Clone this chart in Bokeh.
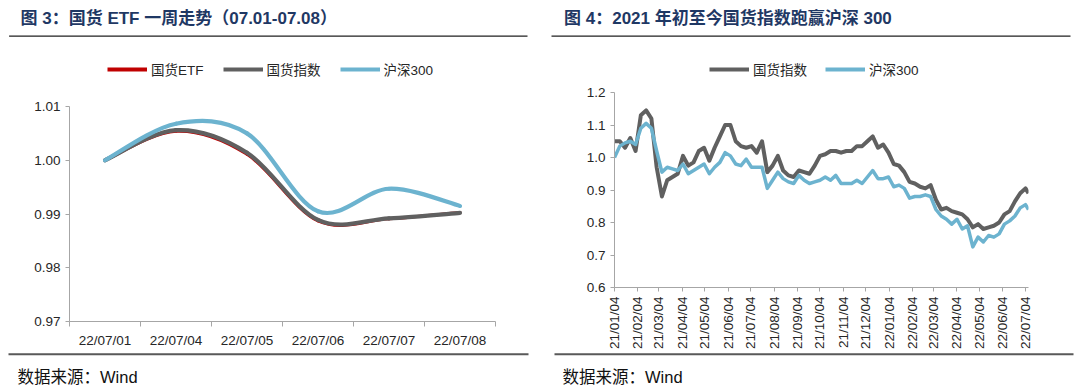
import math
import numpy as np
import pandas as pd
from bokeh.plotting import figure
from bokeh.models import (Range1d, FixedTicker, Label, BoxAnnotation, Legend, LegendItem,
                          NumeralTickFormatter, DatetimeTickFormatter)
from bokeh.layouts import row, column
from bokeh.embed import file_html
from bokeh.resources import INLINE

# ---------------- data: left chart (one week) ----------------
week_labels = ["22/07/01", "22/07/04", "22/07/05", "22/07/06", "22/07/07", "22/07/08"]
etf_week = [1.0000, 1.0054, 1.0011, 0.9887, 0.9891, 0.9903]
gh_week = [1.0000, 1.0056, 1.0014, 0.9889, 0.9892, 0.9902]
hs_week = [1.0000, 1.0068, 1.0050, 0.9905, 0.9947, 0.9915]
left_yticks = [0.97, 0.98, 0.99, 1.00, 1.01]

# ---------------- data: right chart (weekly samples since 2021-01-04) ----------------
dates_right = list(pd.date_range("2021-01-04", periods=79, freq="7D")) + [pd.Timestamp("2022-07-08")]
gh_index = [1.05, 1.05, 1.03, 1.06, 1.02, 1.13, 1.145, 1.12, 0.97, 0.88,
            0.93, 0.94, 0.95, 1.005, 0.975, 0.985, 1.02, 1.03, 0.99, 1.03,
            1.065, 1.10, 1.10, 1.05, 1.035, 1.03, 1.035, 1.015, 1.05, 0.955,
            0.975, 1.005, 0.96, 0.945, 0.94, 0.96, 0.955, 0.95, 0.975, 1.005,
            1.01, 1.02, 1.02, 1.015, 1.02, 1.02, 1.035, 1.035, 1.05, 1.065,
            1.03, 1.04, 1.015, 0.98, 0.975, 0.955, 0.925, 0.92, 0.91, 0.905,
            0.915, 0.87, 0.84, 0.845, 0.835, 0.83, 0.825, 0.81, 0.785, 0.795,
            0.78, 0.785, 0.79, 0.80, 0.825, 0.835, 0.865, 0.89, 0.905, 0.89]
hs300 = [1.00, 1.035, 1.045, 1.05, 1.04, 1.09, 1.105, 1.09, 1.02, 0.955,
         0.97, 0.965, 0.96, 0.98, 0.95, 0.96, 0.97, 0.98, 0.95, 0.97,
         0.985, 1.015, 1.005, 0.98, 0.975, 0.995, 0.97, 0.97, 0.97, 0.905,
         0.93, 0.955, 0.935, 0.925, 0.92, 0.945, 0.93, 0.92, 0.925, 0.93,
         0.94, 0.93, 0.945, 0.92, 0.92, 0.92, 0.93, 0.92, 0.94, 0.96,
         0.935, 0.935, 0.94, 0.91, 0.915, 0.905, 0.875, 0.88, 0.88, 0.885,
         0.88, 0.84, 0.82, 0.81, 0.795, 0.81, 0.78, 0.79, 0.725, 0.755,
         0.74, 0.76, 0.755, 0.765, 0.795, 0.805, 0.82, 0.845, 0.855, 0.84]
right_xticks = ["2021-01-04", "2021-02-04", "2021-03-04", "2021-04-04", "2021-05-04",
                "2021-06-04", "2021-07-04", "2021-08-04", "2021-09-04", "2021-10-04",
                "2021-11-04", "2021-12-04", "2022-01-04", "2022-02-04", "2022-03-04",
                "2022-04-04", "2022-05-04", "2022-06-04", "2022-07-04"]
right_yticks = [0.6, 0.7, 0.8, 0.9, 1.0, 1.1, 1.2]

title_left = "图 3：国货 ETF 一周走势（07.01-07.08）"
title_right = "图 4：2021 年初至今国货指数跑赢沪深 300"
source_text = "数据来源：Wind"

# ---------------- styles ----------------
FONT = "Liberation Sans, Noto Sans CJK SC"
AX = "#A6A6A6"
TXT = "#262626"
RED = "#C00000"
GRAY = "#606060"
BLUE = "#6CB3CF"
TITLE_C = "#1F3864"
HEAD_H = 82


def blank_fig(w, h):
    p = figure(width=w, height=h, output_backend="svg", toolbar_location=None,
               x_range=Range1d(0, w), y_range=Range1d(h, 0),
               x_axis_location=None, y_axis_location=None,
               min_border_left=0, min_border_right=0, min_border_top=0, min_border_bottom=0)
    p.outline_line_color = None
    p.grid.visible = False
    return p


def rule(p, left, right, top, bottom, color):
    p.add_layout(BoxAnnotation(left=left, right=right, top=top, bottom=bottom,
                               fill_color=color, fill_alpha=1, line_color=None))


def header(w, title, tx, ul, ur, series, lx, standoff, spacing):
    """Title, rule and legend.  The legend keys reuse the plotted series (hidden here)."""
    p = blank_fig(w, HEAD_H)
    p.add_layout(Label(x=tx, y=17.5, text=title, text_font=FONT, text_font_style="bold",
                       text_font_size="17px", text_color=TITLE_C, text_baseline="middle",
                       text_align="left"))
    rule(p, ul, ur, 35.0, 36.3, "#202020")
    items = []
    for lab, xs, ys, col in series:
        r = p.line(xs, ys, line_color=col, line_width=4, visible=False)
        items.append(LegendItem(label=lab, renderers=[r]))
    leg = Legend(items=items, location=(lx, 3), orientation="horizontal",
                 glyph_width=40, glyph_height=20, label_standoff=standoff, spacing=spacing,
                 padding=0, margin=0, border_line_color=None, background_fill_alpha=0,
                 label_text_font=FONT, label_text_font_size="13.5px", label_text_color=TXT,
                 label_height=20, click_policy="none")
    p.add_layout(leg)
    return p


def footer(w, bl, br, sx):
    p = blank_fig(w, 40)
    rule(p, bl, br, 0.8, 2.8, "#595959")
    p.add_layout(Label(x=sx, y=24, text=source_text, text_font=FONT, text_font_size="16.5px",
                       text_color="#111111", text_baseline="middle", text_align="left"))
    return p


def style_axes(p):
    for ax in p.axis:
        ax.axis_line_color = AX
        ax.major_tick_line_color = AX
        ax.minor_tick_line_color = None
        ax.major_tick_in = 0
        ax.major_tick_out = 4
        ax.major_label_text_font = FONT
        ax.major_label_text_font_size = "13.5px"
        ax.major_label_text_color = TXT
        ax.major_label_standoff = 5


def smooth(p, xs, ys, **kw):
    x = np.asarray(xs, float)
    y = np.asarray(ys, float)
    xp = np.concatenate([[x[0]], x, [x[-1]]])
    yp = np.concatenate([[y[0]], y, [y[-1]]])
    n = len(x)
    i = np.arange(n - 1)
    cx0 = x[i] + (xp[i + 2] - xp[i]) / 6
    cy0 = y[i] + (yp[i + 2] - yp[i]) / 6
    cx1 = x[i + 1] - (xp[i + 3] - xp[i + 1]) / 6
    cy1 = y[i + 1] - (yp[i + 3] - yp[i + 1]) / 6
    return p.bezier(x0=x[:-1], y0=y[:-1], x1=x[1:], y1=y[1:],
                    cx0=cx0, cy0=cy0, cx1=cx1, cy1=cy1, line_cap="round", **kw)


# ---------------- left panel ----------------
xc = [i + 0.5 for i in range(len(week_labels))]
h1 = header(548, title_left, 20, 8.6, 527,
            [("国货ETF", xc, etf_week, RED), ("国货指数", xc, gh_week, GRAY),
             ("沪深300", xc, hs_week, BLUE)], 107, 4, 19)

p1 = figure(width=548, height=270, output_backend="svg", toolbar_location=None,
            x_range=Range1d(0, len(week_labels)), y_range=Range1d(0.97, 1.01),
            min_border_left=69, min_border_right=53, min_border_top=24, min_border_bottom=31)
p1.outline_line_color = None
p1.grid.visible = False

smooth(p1, xc, etf_week, line_color=RED, line_width=3)
smooth(p1, xc, gh_week, line_color=GRAY, line_width=4.2)
smooth(p1, xc, hs_week, line_color=BLUE, line_width=4.2)

style_axes(p1)
p1.xaxis.ticker = FixedTicker(ticks=xc, minor_ticks=list(range(len(week_labels) + 1)))
p1.xaxis.major_label_overrides = {x: lab for x, lab in zip(xc, week_labels)}
p1.xaxis.major_tick_line_color = None
p1.xaxis.minor_tick_line_color = AX
p1.xaxis.minor_tick_in = 0
p1.xaxis.minor_tick_out = 5
p1.xaxis.major_label_standoff = 6
p1.yaxis.ticker = FixedTicker(ticks=left_yticks)
p1.yaxis.formatter = NumeralTickFormatter(format="0.00")

f1 = footer(548, 8, 528, 17)

# ---------------- right panel ----------------
h2 = header(532, title_right, 15.5, 3, 522,
            [("国货指数", dates_right, gh_index, GRAY), ("沪深300", dates_right, hs300, BLUE)],
            161, 4, 18)

p2 = figure(width=532, height=270, output_backend="svg", toolbar_location=None,
            x_axis_type="datetime",
            x_range=Range1d(pd.Timestamp("2021-01-04"), pd.Timestamp("2022-07-08")),
            y_range=Range1d(0.6, 1.2),
            min_border_left=66, min_border_right=52, min_border_top=10, min_border_bottom=65)
p2.outline_line_color = None
p2.grid.visible = False

p2.line(dates_right, gh_index, line_color=GRAY, line_width=4, line_join="round")
p2.line(dates_right, hs300, line_color=BLUE, line_width=3.5, line_join="round")

style_axes(p2)
p2.xaxis.ticker = FixedTicker(ticks=[pd.Timestamp(s).value // 10**6 for s in right_xticks])
fmt = "%y/%m/%d"
p2.xaxis.formatter = DatetimeTickFormatter(milliseconds=fmt, seconds=fmt, minsec=fmt, minutes=fmt,
                                           hourmin=fmt, hours=fmt, days=fmt, months=fmt, years=fmt)
p2.xaxis.major_label_orientation = math.pi / 2
p2.yaxis.ticker = FixedTicker(ticks=right_yticks)
p2.yaxis.formatter = NumeralTickFormatter(format="0.0")

f2 = footer(532, 6, 525, 14)

layout = row(column(row(h1), row(p1), row(f1)), column(row(h2), row(p2), row(f2)))
open("out.html", "w").write(file_html(layout, INLINE))
